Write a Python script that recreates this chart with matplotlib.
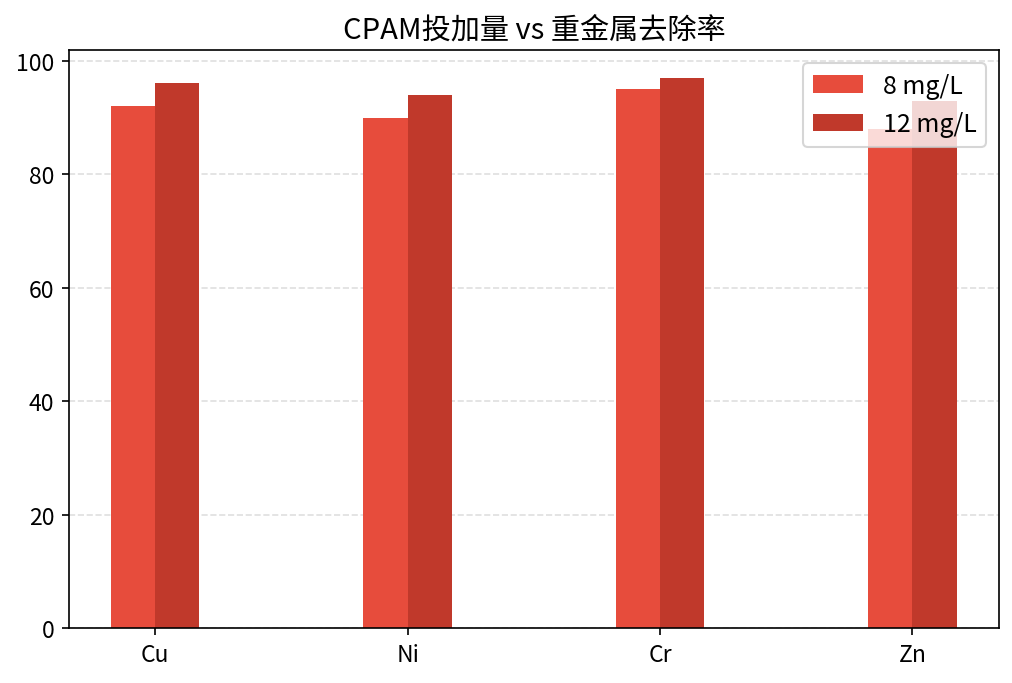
import numpy as np
import matplotlib.pyplot as plt

plt.rcParams['font.family'] = ['Noto Sans CJK SC', 'DejaVu Sans']
plt.rcParams['axes.unicode_minus'] = False

metals = ['Cu', 'Ni', 'Cr', 'Zn']
dose_8 = [92, 90, 95, 88]
dose_12 = [96, 94, 97, 93]

x = np.arange(len(metals))
w = 0.175

fig, ax = plt.subplots(figsize=(6.753, 4.56), dpi=150)
fig.subplots_adjust(left=0.068, right=0.986, top=0.925, bottom=0.080)
ax.bar(x - w/2, dose_8, w, label='8 mg/L', color='#e74c3c')
ax.bar(x + w/2, dose_12, w, label='12 mg/L', color='#c0392b')
ax.set_xticks(x)
ax.set_xticklabels(metals)
ax.tick_params(labelsize=11)
ax.set_title('CPAM投加量 vs 重金属去除率', fontsize=14)
ax.grid(axis='y', linestyle='--', alpha=0.4)
ax.set_axisbelow(True)
ax.legend(loc='upper right', fontsize=12)

plt.savefig('out.png')
